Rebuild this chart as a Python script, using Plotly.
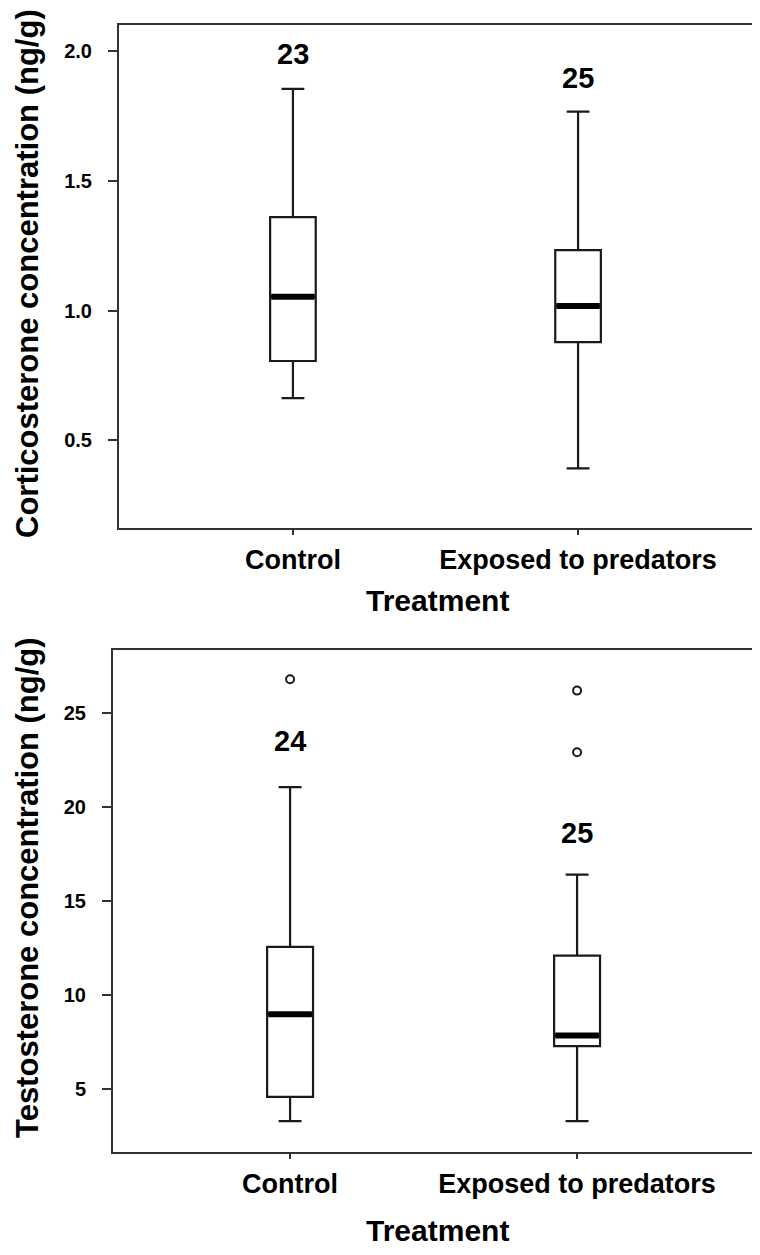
"""Corticosterone and testosterone by treatment, two stacked box plots."""
import plotly.graph_objects as go

# ---- data ---------------------------------------------------------------
groups = ["Control", "Exposed to predators"]
positions = [0, 1]

# corticosterone (ng/g) box statistics
cort_lower = [0.663, 0.392]
cort_q1 = [0.806, 0.879]
cort_median = [1.054, 1.018]
cort_q3 = [1.361, 1.234]
cort_upper = [1.856, 1.768]
cort_n = ["23", "25"]
cort_n_y = [1.99, 1.897]

# testosterone (ng/g) box statistics
test_lower = [3.28, 3.28]
test_q1 = [4.57, 7.27]
test_median = [8.97, 7.83]
test_q3 = [12.55, 12.08]
test_upper = [21.05, 16.39]
test_outlier_x = [0, 1, 1]
test_outlier_y = [26.78, 26.18, 22.9]
test_n = ["24", "25"]
test_n_y = [23.5, 18.6]

# ---- style --------------------------------------------------------------
# the page body keeps its 8px browser margin, so lay out in page pixels
# and shift by that offset
PAGE_W, PAGE_H, OFF = 760, 1255, 8
W, H = PAGE_W - OFF, PAGE_H - OFF
INK = "#1a1a1a"
FRAME = "#333333"
FONT = "Liberation Sans"
BOX_W = 0.16

fig = go.Figure()


def add_panel(xa, ya, lower, q1, med, q3, upper):
    fig.add_trace(go.Box(
        x=positions, q1=q1, median=med, q3=q3,
        lowerfence=lower, upperfence=upper,
        width=BOX_W, whiskerwidth=0.5, boxpoints=False,
        fillcolor="white", line=dict(color=INK, width=2.2),
        xaxis=xa, yaxis=ya, showlegend=False, hoverinfo="skip",
    ))
    # thick median bar, as in the original figure
    for p, m in zip(positions, med):
        fig.add_trace(go.Scatter(
            x=[p - BOX_W / 2 + 0.004, p + BOX_W / 2 - 0.004], y=[m, m],
            mode="lines", line=dict(color="black", width=6),
            xaxis=xa, yaxis=ya, showlegend=False, hoverinfo="skip",
        ))


add_panel("x", "y", cort_lower, cort_q1, cort_median, cort_q3, cort_upper)
add_panel("x2", "y2", test_lower, test_q1, test_median, test_q3, test_upper)

fig.add_trace(go.Scatter(
    x=test_outlier_x, y=test_outlier_y, mode="markers",
    marker=dict(symbol="circle-open", size=8, color=INK, line=dict(width=2)),
    xaxis="x2", yaxis="y2", showlegend=False,
))

# n labels above the boxes
for xa, ya, labels, ys in [("x", "y", cort_n, cort_n_y), ("x2", "y2", test_n, test_n_y)]:
    for p, t, yv in zip(positions, labels, ys):
        fig.add_annotation(
            x=p, y=yv, xref=xa, yref=ya, text=t, showarrow=False,
            font=dict(family=FONT, size=29, color="black", weight="bold"),
        )


def px_x(v):
    return (v - OFF) / W


def px_y(v):
    return 1 - (v - OFF) / H


axis_common = dict(
    showline=True, mirror=True, linecolor=FRAME, linewidth=2,
    showgrid=False, zeroline=False, ticks="outside", tickcolor=FRAME,
    tickwidth=2,
)
xfont = dict(family=FONT, size=27, color="black", weight="bold")
yfont = dict(family=FONT, size=20, color="black", weight="bold")

fig.update_layout(
    width=W, height=H,
    margin=dict(l=0, r=0, t=0, b=0),
    paper_bgcolor="white", plot_bgcolor="white",
    xaxis=dict(
        domain=[px_x(119), px_x(752)], range=[-0.61, 1.61], anchor="y",
        tickvals=positions, ticktext=groups, ticklen=5, tickfont=xfont,
        ticklabelstandoff=2, **axis_common,
    ),
    yaxis=dict(
        domain=[px_y(528), px_y(25)], range=[0.162, 2.102], anchor="x",
        tickvals=[0.5, 1.0, 1.5, 2.0], tickformat=".1f", ticklen=9,
        tickfont=yfont, ticklabelstandoff=12, **axis_common,
    ),
    xaxis2=dict(
        domain=[px_x(113), px_x(753)], range=[-0.617, 1.613], anchor="y2",
        tickvals=positions, ticktext=groups, ticklen=5, tickfont=xfont,
        ticklabelstandoff=2, **axis_common,
    ),
    yaxis2=dict(
        domain=[px_y(1152), px_y(650)], range=[1.64, 28.34], anchor="x2",
        tickvals=[5, 10, 15, 20, 25], ticklen=9,
        tickfont=yfont, ticklabelstandoff=12, **axis_common,
    ),
)

# axis titles
title_font = dict(family=FONT, size=30, color="black", weight="bold")
ytitle_font = dict(family=FONT, size=31, color="black", weight="bold")
for ty in [600, 1230]:
    fig.add_annotation(x=px_x(437), y=px_y(ty), xref="paper", yref="paper",
                       text="Treatment", showarrow=False, font=title_font,
                       xanchor="center", yanchor="middle")
fig.add_annotation(x=px_x(28), y=px_y(274), xref="paper", yref="paper",
                   text="Corticosterone concentration (ng/g)", textangle=-90,
                   showarrow=False, font=ytitle_font,
                   xanchor="center", yanchor="middle")
fig.add_annotation(x=px_x(27), y=px_y(888), xref="paper", yref="paper",
                   text="Testosterone concentration (ng/g)", textangle=-90,
                   showarrow=False, font=ytitle_font,
                   xanchor="center", yanchor="middle")

fig.write_html("out.html")
